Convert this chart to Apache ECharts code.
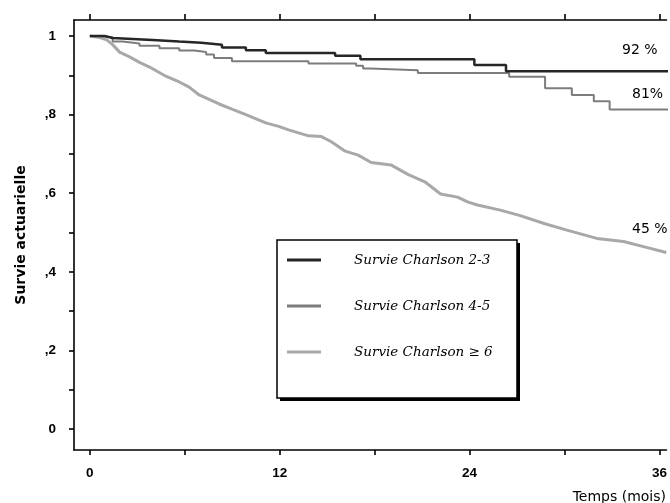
<!DOCTYPE html>
<html><head><meta charset="utf-8">
<script src="https://cdn.jsdelivr.net/npm/echarts@6/dist/echarts.min.js"></script>
<style>html,body{margin:0;padding:0;background:#fff}#c{width:670px;height:503px}</style>
</head><body><div id="c"></div>
<script>
const seriesNames = ['Survie Charlson 2-3', 'Survie Charlson 4-5', 'Survie Charlson \u2265 6'];
const xTicks = [0, 6, 12, 18, 24, 30, 36];
const xLabels = [0, 12, 24, 36];
const yTicks = [0, 0.1, 0.2, 0.3, 0.4, 0.5, 0.6, 0.7, 0.8, 0.9, 1];
const yLabels = [0, 0.2, 0.4, 0.6, 0.8, 1];

const time23 = [0, 0.94, 1.44, 3.96, 5.65, 7.04, 8.35, 9.86, 11.12, 15.5, 17.1, 24.3, 26.3, 38];
const surv23 = [1.0, 0.995, 0.990, 0.986, 0.983, 0.978, 0.971, 0.964, 0.957, 0.950, 0.941, 0.926, 0.910, 0.910];

const time45 = [0, 0.63, 1.44, 2.07, 3.14, 4.40, 5.65, 6.60, 7.35, 7.85, 8.98, 13.82, 16.83, 17.27, 17.71, 20.73, 26.5, 28.77, 30.46, 31.85, 32.85, 38];
const surv45 = [1.0, 0.997, 0.986, 0.981, 0.975, 0.969, 0.963, 0.959, 0.953, 0.944, 0.936, 0.930, 0.924, 0.917, 0.913, 0.906, 0.896, 0.867, 0.850, 0.834, 0.813, 0.813];

const time6 = [0, 0.63, 1.07, 1.44, 1.88, 2.51, 3.14, 3.77, 4.84, 5.65, 6.28, 6.91, 8.17, 8.98, 9.86, 11.12, 11.93, 12.56, 13.82, 14.64, 15.26, 16.14, 16.96, 17.78, 19.03, 20.10, 21.17, 22.17, 23.24, 23.87, 24.50, 25.94, 27.20, 28.71, 30.15, 32.04, 33.73, 34.99, 36.43];
const surv6 = [1.0, 0.996, 0.990, 0.978, 0.959, 0.947, 0.933, 0.921, 0.897, 0.883, 0.870, 0.850, 0.827, 0.814, 0.800, 0.779, 0.770, 0.761, 0.746, 0.744, 0.731, 0.707, 0.697, 0.678, 0.672, 0.648, 0.629, 0.598, 0.590, 0.578, 0.570, 0.557, 0.543, 0.523, 0.506, 0.485, 0.477, 0.464, 0.449];

const endLabels = ['92 %', '81%', '45 %'];

function pairs(t, s) { return t.map((v, i) => [v, s[i]]); }

const chart = echarts.init(document.getElementById('c'), null, {renderer: 'canvas'});
const axisLineStyle = {color: '#000', width: 1.6};
const labelFont = {fontFamily: 'Liberation Sans, Arial, sans-serif', fontWeight: 'bold', fontSize: 13.5, color: '#000'};
const annFont = '14px "DejaVu Sans", sans-serif';

chart.setOption({
  animation: false,
  backgroundColor: '#fff',
  grid: {left: 74, top: 20, right: 0, height: 430, containLabel: false},
  xAxis: [
    {
      type: 'value', position: 'bottom', min: -1, max: 36.44,
      axisLine: {show: true, onZero: false, lineStyle: axisLineStyle},
      axisTick: {show: true, customValues: xTicks, length: 5, lineStyle: axisLineStyle},
      axisLabel: Object.assign({customValues: xLabels, margin: 16}, labelFont),
      splitLine: {show: false}
    },
    {
      type: 'value', position: 'top', min: -1, max: 36.44,
      axisLine: {show: true, onZero: false, lineStyle: axisLineStyle},
      axisTick: {show: true, customValues: xTicks, length: 6, lineStyle: axisLineStyle},
      axisLabel: {show: false},
      splitLine: {show: false}
    }
  ],
  yAxis: {
    type: 'value', min: -0.0534, max: 1.0407,
    axisLine: {show: true, onZero: false, lineStyle: axisLineStyle},
    axisTick: {show: true, customValues: yTicks, length: 5, lineStyle: axisLineStyle},
    axisLabel: Object.assign({
      customValues: yLabels, margin: 18,
      formatter: v => (Math.abs(v - 1) < 1e-6 ? '1' : (Math.abs(v) < 1e-6 ? '0' : ',' + Math.round(v * 10)))
    }, labelFont),
    splitLine: {show: false},
    name: 'Survie actuarielle', nameLocation: 'middle', nameGap: 46, nameRotate: 90,
    nameTextStyle: {fontFamily: 'DejaVu Sans, sans-serif', fontWeight: 'bold', fontSize: 14, color: '#000'}
  },
  legend: {
    orient: 'vertical', left: 282, top: 248, itemWidth: 34, itemHeight: 3, itemGap: 32, z: 10,
    icon: 'rect',
    data: seriesNames,
    textStyle: {fontFamily: 'DejaVu Serif, serif', fontStyle: 'italic', fontSize: 13.5, color: '#000', padding: [0, 0, 0, 28]}
  },
  graphic: [
    {type: 'rect', z: 5, shape: {x: 280, y: 243, width: 240, height: 158}, style: {fill: '#000'}},
    {type: 'rect', z: 6, shape: {x: 277, y: 240, width: 240, height: 158},
     style: {fill: '#fff', stroke: '#000', lineWidth: 1.5}},
    {type: 'text', z: 6, style: {x: 622, y: 50, text: endLabels[0], font: annFont, fill: '#000', textVerticalAlign: 'middle'}},
    {type: 'text', z: 6, style: {x: 632, y: 94, text: endLabels[1], font: annFont, fill: '#000', textVerticalAlign: 'middle'}},
    {type: 'text', z: 6, style: {x: 632, y: 229, text: endLabels[2], font: annFont, fill: '#000', textVerticalAlign: 'middle'}},
    {type: 'text', z: 6, style: {x: 666, y: 497, text: 'Temps (mois)', font: annFont, fill: '#000', textAlign: 'right', textVerticalAlign: 'middle'}}
  ],
  series: [
    {name: seriesNames[0], type: 'line', step: 'end', symbol: 'none', data: pairs(time23, surv23),
     lineStyle: {color: '#262626', width: 2.5}, itemStyle: {color: '#262626'}, z: 4},
    {name: seriesNames[1], type: 'line', step: 'end', symbol: 'none', data: pairs(time45, surv45),
     lineStyle: {color: '#7d7d7d', width: 2}, itemStyle: {color: '#7d7d7d'}, z: 3},
    {name: seriesNames[2], type: 'line', symbol: 'none', data: pairs(time6, surv6),
     lineStyle: {color: '#a8a8a8', width: 3}, itemStyle: {color: '#a8a8a8'}, z: 2}
  ]
});
</script></body></html>
